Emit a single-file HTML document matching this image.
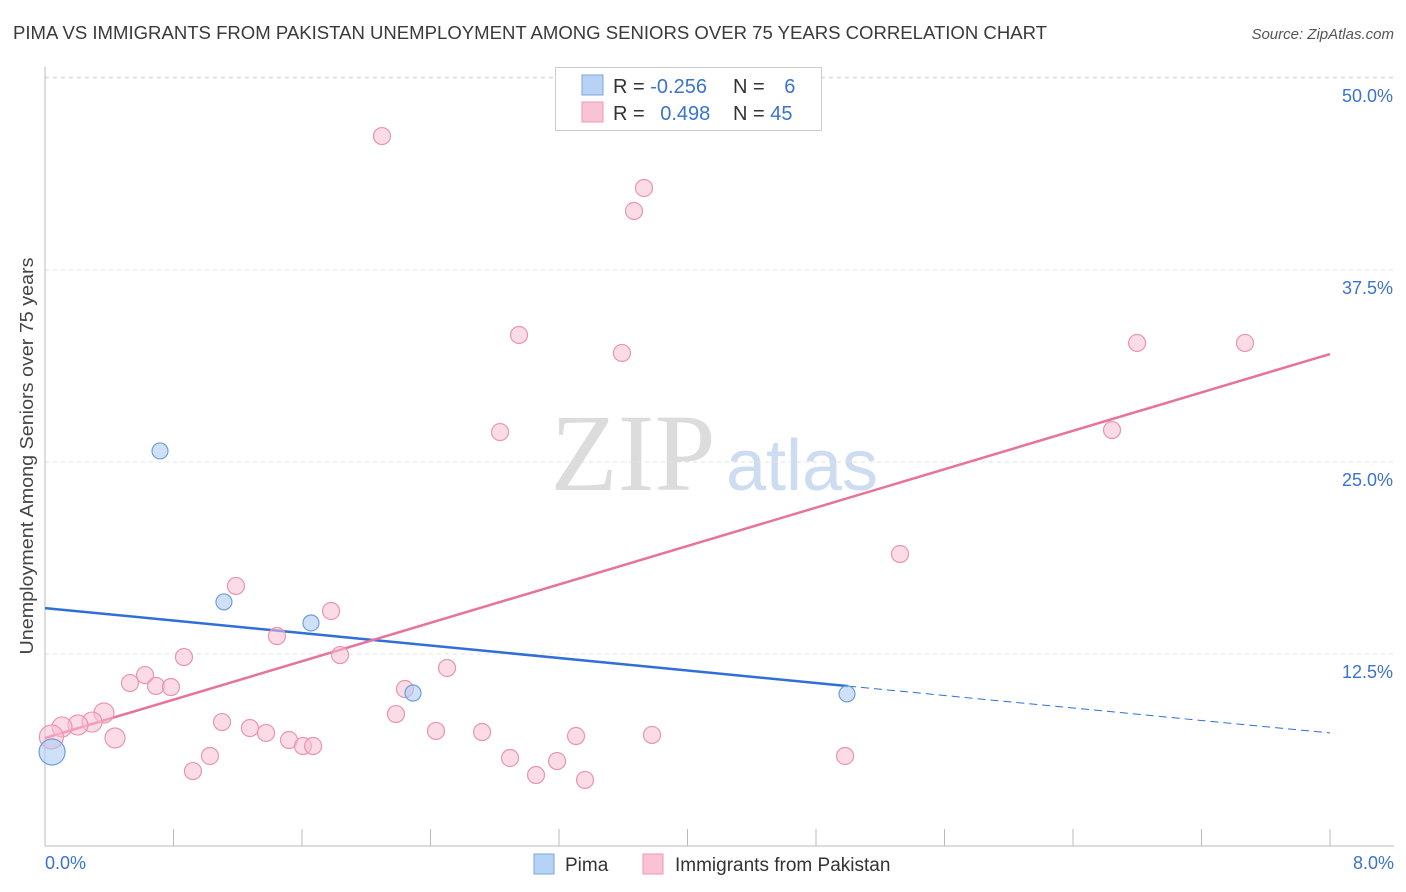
<!DOCTYPE html>
<html><head><meta charset="utf-8"><style>
body{margin:0;background:#fff;font-family:"Liberation Sans",sans-serif}
svg{display:block}
</style></head><body>
<svg id="chart" width="1406" height="892" xmlns="http://www.w3.org/2000/svg">
<text x="13" y="39" font-size="18" fill="#3a3a3a" textLength="1034" lengthAdjust="spacingAndGlyphs">PIMA VS IMMIGRANTS FROM PAKISTAN UNEMPLOYMENT AMONG SENIORS OVER 75 YEARS CORRELATION CHART</text>
<text x="1394" y="39" font-size="15" fill="#555" text-anchor="end" font-style="italic">Source: ZipAtlas.com</text>
<g>
<text x="633" y="490" font-size="110" fill="#dcdcdc" text-anchor="middle" font-family="Liberation Serif,serif">ZIP</text>
<text x="802" y="490" font-size="72" fill="#cddcf0" text-anchor="middle">atlas</text>
</g>
<g id="grid"></g>
<g id="axes"></g>
<g id="lines"></g>
<g id="pts"></g>
<text transform="translate(33,456) rotate(-90)" font-size="18" fill="#444" text-anchor="middle" textLength="397" lengthAdjust="spacingAndGlyphs">Unemployment Among Seniors over 75 years</text>
<text x="45" y="869" font-size="18" fill="#3a73d0">0.0%</text>
<text x="1394" y="869" font-size="18" fill="#3a73d0" text-anchor="end">8.0%</text>
<g>
<rect x="555.5" y="67.5" width="266" height="63" fill="#fff" stroke="#ccc"/>
<rect x="582" y="75" width="21" height="20" fill="#b8d2f5" stroke="#7aa6e0"/>
<rect x="582" y="102" width="21" height="20" fill="#f9c3d3" stroke="#ee9ab4"/>
<text x="613" y="93" font-size="20" fill="#333">R = <tspan fill="#3a73d0">-0.256</tspan></text>
<text x="733" y="93" font-size="20" fill="#333">N = <tspan fill="#3a73d0" dx="14">6</tspan></text>
<text x="613" y="120" font-size="20" fill="#333">R = <tspan fill="#3a73d0" dx="10">0.498</tspan></text>
<text x="733" y="120" font-size="20" fill="#333">N = <tspan fill="#3a73d0">45</tspan></text>
</g>
<g>
<rect x="534" y="854" width="20" height="20" fill="#b8d2f5" stroke="#7aa6e0"/>
<text x="565" y="871" font-size="19" fill="#333">Pima</text>
<rect x="643" y="854" width="20" height="20" fill="#f9c3d3" stroke="#ee9ab4"/>
<text x="675" y="871" font-size="19" fill="#333">Immigrants from Pakistan</text>
</g>
</svg>
<script>
const yTicks=[12.5,25,37.5,50];
const yTickLabels=["12.5%","25.0%","37.5%","50.0%"];
const xTicks=[0,0.8,1.6,2.4,3.2,4,4.8,5.6,6.4,7.2,8];
const pinkX=[2.098,3.729,3.667,2.951,3.592,6.799,7.471,2.833,6.643,5.323,1.189,1.781,1.444,1.837,0.865,2.503,0.623,0.529,0.691,0.784,2.241,0.367,2.185,1.102,0.293,0.205,0.106,1.276,2.434,1.376,2.721,3.306,3.779,0.436,1.519,1.606,1.669,1.027,2.895,4.981,3.188,0.921,3.057,3.362,0.04];
const pinkY=[46.22,42.84,41.34,33.27,32.10,32.75,32.75,26.95,27.08,19.01,16.93,15.30,13.67,12.43,12.30,11.59,11.13,10.61,10.42,10.35,10.22,8.66,8.59,8.07,8.07,7.88,7.75,7.68,7.49,7.36,7.42,7.16,7.23,7.03,6.90,6.51,6.51,5.86,5.73,5.86,5.53,4.88,4.62,4.30,7.10];
const blueX=[0.716,1.114,1.656,2.291,4.993,0.044];
const blueY=[25.72,15.89,14.52,9.96,9.90,6.12];
const blueTrend=[15.49,7.36];
const pinkTrend=[7.03,32.03];
const NS="http://www.w3.org/2000/svg";
const sx=v=>45+v/8*1285, sy=v=>846-v/12.5*192;
function mk(p,t,a){const e=document.createElementNS(NS,t);for(const k in a)e.setAttribute(k,a[k]);p.appendChild(e);return e;}
const grid=document.getElementById('grid'),axes=document.getElementById('axes'),lines=document.getElementById('lines'),pts=document.getElementById('pts');
mk(grid,'line',{x1:45,x2:1394,y1:sy(50)-1,y2:sy(50)-1,stroke:'#e2e2e2','stroke-dasharray':'4,4'});
yTicks.forEach((v,i)=>{
 const l=mk(grid,'line',{x1:45,x2:1394,y1:sy(v),y2:sy(v),stroke:'#e2e2e2','stroke-dasharray':'4,4'});
 
 
 const t=mk(axes,'text',{x:1393,y:sy(v)+24,'font-size':18,fill:'#3a73d0','text-anchor':'end'});
 t.textContent=yTickLabels[i];
 
 
});
mk(axes,'line',{x1:45,x2:45,y1:67,y2:846,stroke:'#bbb'});
mk(axes,'line',{x1:45,x2:1394,y1:846,y2:846,stroke:'#bbb'});
xTicks.forEach(v=>{const l=mk(axes,'line',{x1:sx(v),x2:sx(v),y1:829,y2:846,stroke:'#bbb'});
 
 });
const bl=mk(lines,'line',{x1:sx(0),y1:sy(blueTrend[0]),x2:sx(5),y2:sy(blueTrend[0]+(blueTrend[1]-blueTrend[0])*5/8),stroke:'#2f6fd6','stroke-width':2.5});


const bd=mk(lines,'line',{x1:sx(5),y1:sy(blueTrend[0]+(blueTrend[1]-blueTrend[0])*5/8),x2:sx(8),y2:sy(blueTrend[1]),stroke:'#2f6fd6','stroke-width':1,'stroke-dasharray':'8,5'});


const pl=mk(lines,'line',{x1:sx(0),y1:sy(pinkTrend[0]),x2:sx(8),y2:sy(pinkTrend[1]),stroke:'#e8739a','stroke-width':2.5});


pinkX.forEach((x,i)=>{
 let r=8.5; if(i==pinkX.length-1) r=12; else if(x<0.5) r=10;
 const c=mk(pts,'circle',{cx:sx(x),cy:sy(pinkY[i]),r:r,fill:'rgba(248,190,210,0.55)',stroke:'#e995b1','stroke-width':1.2});
 
 });
blueX.forEach((x,i)=>{const c=mk(pts,'circle',{cx:sx(x),cy:sy(blueY[i]),r:i==blueX.length-1?13:8,fill:'rgba(175,205,245,0.6)',stroke:'#6d9edc','stroke-width':1.2});
 
 });
</script>
</body></html>
